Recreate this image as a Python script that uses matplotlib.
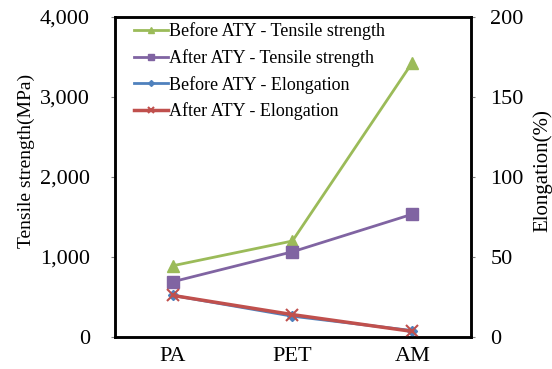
import numpy as np
import matplotlib as mpl
mpl.use('Agg')
import matplotlib.pyplot as plt

plt.rcParams['font.family'] = ['Liberation Serif', 'DejaVu Serif']

categories = ['PA', 'PET', 'AM']
ts_before = [890, 1200, 3430]
ts_after = [690, 1065, 1535]
el_before = [26, 13, 4]
el_after = [26, 14, 3.5]

GREEN = '#9BBB59'
PURPLE = '#8064A2'
BLUE = '#4F81BD'
RED = '#C0504D'

fig = plt.figure(figsize=(5.52, 3.69), dpi=100)
ax = fig.add_axes([115/552, 1 - 337/369, (471-115)/552, (337-17)/369])
ax2 = ax.twinx()

x = np.arange(len(categories))
l1, = ax.plot(x, ts_before, color=GREEN, lw=2, marker='^', ms=8, label='Before ATY - Tensile strength')
l2, = ax.plot(x, ts_after, color=PURPLE, lw=2, marker='s', ms=8, label='After ATY - Tensile strength')
l3, = ax2.plot(x, el_before, color=BLUE, lw=2, marker='D', ms=5, label='Before ATY - Elongation')
l4, = ax2.plot(x, el_after, color=RED, lw=2.5, marker='x', ms=8, mew=1.5, label='After ATY - Elongation')

ax.set_xlim(-0.48, 2.49)
ax.set_ylim(0, 4000)
ax2.set_ylim(0, 200)
ax.set_yticks([0, 1000, 2000, 3000, 4000])
ax.set_yticklabels(['0', '1,000', '2,000', '3,000', '4,000'])
ax2.set_yticks([0, 50, 100, 150, 200])
ax.set_xticks(x)
ax.set_xticklabels(categories)

for a in (ax, ax2):
    for s in a.spines.values():
        s.set_linewidth(1.8)
        s.set_color('black')
ax.tick_params(axis='y', length=3, width=0.8, color='gray', labelsize=16, pad=15)
ax2.tick_params(axis='y', length=3, width=0.8, color='gray', labelsize=16, pad=11)
ax.tick_params(axis='x', length=0, labelsize=16, pad=7)

ax.set_ylabel('Tensile strength(MPa)', fontsize=14)
ax.yaxis.set_label_coords(-0.225, 0.55)
ax2.set_ylabel('Elongation(%)', fontsize=15)
ax2.yaxis.set_label_coords(1.172, 0.52)

ax.legend(handles=[l1, l2, l3, l4], loc='upper left', frameon=False, fontsize=13,
          handlelength=1.9, handletextpad=0.05, labelspacing=0.48, markerscale=0.6,
          borderaxespad=0.0, bbox_to_anchor=(0.032, 1.005))

plt.savefig('out.png', dpi=100)
